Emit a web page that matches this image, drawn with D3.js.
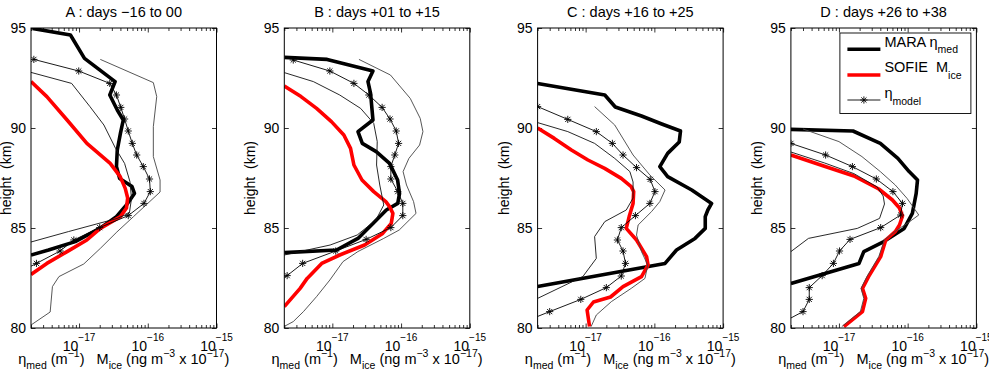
<!DOCTYPE html>
<html>
<head>
<meta charset="utf-8">
<script src="https://cdn.jsdelivr.net/npm/d3@7"></script>
<style>
  body { margin: 0; background: #fff; }
  text { font-family: "Liberation Sans", Arial, sans-serif; fill: #000; white-space: pre; }
</style>
</head>
<body>
<script>
// values are [height km, value in units of 1e-17]
const panelTitles = ["A : days \u221216 to 00", "B : days +01 to +15", "C : days +16 to +25", "D : days +26 to +38"];
const yTicks = [80, 85, 90, 95];
const xTicks = [1, 10, 100];
const xTickExp = ["\u221217", "\u221216", "\u221215"];
const legendLabels = [["MARA \u03b7", "med"], ["SOFIE  M", "ice"], ["\u03b7", "model"]];

const maraA = [[94.98,0.21],[94.65,0.75],[93.48,1.2],[92.32,3.35],[91.65,2.8],[90.9,3.6],[90.4,4.4],[89.73,4.0],[88.9,3.6],[88.07,3.5],[87.48,3.9],[87.07,5.9],[86.73,6.4],[86.15,4.9],[85.57,3.5],[84.98,2.0],[84.32,0.88],[83.9,0.36],[83.65,0.2]];
const sofieA = [[92.32,0.2],[91.57,0.34],[90.4,0.67],[89.23,1.3],[88.23,2.84],[87.57,3.97],[86.98,4.7],[86.5,5.1],[86.0,4.9],[85.57,4.0],[84.98,2.04],[84.4,1.3],[83.82,0.67],[83.23,0.34],[82.68,0.2]];
const modelA = [[93.43,0.22],[92.85,0.99],[92.23,2.8],[91.65,3.5],[91.03,4.05],[90.45,4.6],[89.85,5.2],[89.23,5.95],[88.65,6.9],[88.07,8.6],[87.45,10.6],[86.82,10.9],[86.23,8.8],[85.62,5.2],[85.02,2.0],[84.4,0.84],[83.85,0.53],[83.23,0.24],[82.63,0.11]];
const lowA = [[92.78,0.2],[92.23,0.78],[91.07,1.44],[90.15,2.3],[88.98,3.4],[88.23,4.6],[87.32,5.5],[86.48,5.8],[85.75,5.4],[85.48,3.6],[84.82,0.7],[84.3,0.2]];
const highA = [[93.43,2.04],[92.27,12.05],[91.57,13.5],[90.07,12.05],[88.57,12.05],[87.4,15.1],[86.8,15.1],[85.57,6.2],[84.8,3.55],[83.98,2.04],[83.2,1.17],[82.57,0.51],[82.07,0.41],[80.8,0.38],[80.15,0.2]];

const maraB = [[93.53,0.2],[93.43,0.84],[92.85,3.9],[92.32,3.3],[91.73,3.6],[90.4,3.9],[89.82,2.36],[89.23,2.73],[88.82,4.35],[88.23,6.8],[87.4,8.9],[86.73,9.5],[86.23,8.95],[85.9,6.1],[85.23,3.9],[84.48,2.36],[83.9,1.15],[83.77,0.2]];
const sofieB = [[92.1,0.2],[91.57,0.35],[90.98,0.59],[90.32,0.97],[89.65,1.47],[88.98,1.84],[88.15,2.06],[87.4,2.7],[86.82,4.0],[86.32,6.0],[86.07,6.8],[85.73,7.6],[85.23,7.2],[84.73,5.4],[84.15,2.95],[83.65,1.28],[83.23,0.70],[82.48,0.43],[81.98,0.34],[81.07,0.2]];
const modelB = [[93.4,0.27],[92.85,0.92],[92.23,2.06],[91.65,3.4],[91.03,5.3],[90.45,6.9],[89.85,8.5],[89.23,9.2],[88.65,8.1],[88.07,7.1],[87.45,7.1],[86.82,8.95],[86.23,10.6],[85.62,10.6],[85.02,7.1],[84.43,3.1],[83.85,1.12],[83.23,0.37],[82.62,0.22],[82.02,0.1]];
const lowB = [[92.77,0.2],[92.32,0.53],[91.65,1.28],[90.98,2.58],[90.23,4.0],[89.32,4.5],[88.15,4.4],[87.15,4.9],[86.15,5.6],[85.4,4.3],[84.65,2.3],[84.15,0.93],[83.65,0.2]];
const highB = [[93.43,2.44],[92.65,7.0],[91.48,13.6],[90.48,19.0],[89.82,20.8],[89.15,18.6],[88.48,13.0],[87.82,10.7],[87.15,12.0],[86.32,15.2],[85.73,16.5],[84.9,9.4],[84.48,5.6],[83.82,2.35],[83.32,1.43],[82.4,0.92],[81.57,0.59],[80.82,0.38],[80.32,0.27],[80.08,0.2]];

const maraC = [[92.23,0.2],[91.65,1.9],[91.05,2.7],[90.6,6.5],[90.2,12.8],[89.85,24],[89.3,23],[88.73,15.6],[88.07,12],[87.57,15.6],[86.9,35],[86.23,68],[85.9,60],[85.57,55],[84.98,55],[84.48,39],[83.9,21],[83.23,14.3],[82.07,0.2]];
const sofieC = [[90.0,0.2],[89.48,0.35],[88.9,0.62],[88.4,1.08],[87.98,1.89],[87.48,3.3],[87.07,4.6],[86.82,5.0],[86.23,4.9],[85.57,4.3],[84.98,3.9],[84.4,5.5],[83.57,7.7],[83.15,8.1],[82.57,6.5],[82.07,3.5],[81.55,2.3],[81.3,1.3],[80.9,1.05],[80.07,1.14]];
const modelC = [[91.07,0.2],[90.43,0.55],[89.82,1.43],[89.23,2.45],[88.65,3.5],[88.02,5.5],[87.43,8.7],[86.82,10.2],[86.23,8.6],[85.62,5.3],[85.02,3.3],[84.4,2.9],[83.85,3.5],[83.23,3.8],[82.6,3.3],[82.02,2.0],[81.43,0.85],[80.82,0.30],[80.22,0.11]];
const lowC = [[90.27,0.2],[89.82,0.55],[89.23,1.35],[88.48,2.65],[87.82,4.4],[87.3,4.9],[86.5,4.9],[85.9,3.9],[85.32,1.9],[84.57,1.35],[83.48,1.43],[82.57,0.91],[81.48,0.2]];
const highC = [[91.07,1.35],[90.15,2.65],[88.65,4.9],[87.65,8.6],[86.9,14.3],[86.32,12],[85.82,9.1],[85.15,5.8],[84.65,5.5],[83.82,6.5],[83.15,8],[82.48,7.3],[81.98,4.6],[81.32,2.37],[80.65,1.43],[80.07,1.2]];

const maraD = [[89.93,0.2],[89.85,1.6],[89.23,4.0],[88.48,7.2],[87.82,10.5],[87.4,13.9],[86.73,13.3],[85.73,11.7],[84.98,8.9],[84.32,4.5],[83.82,2.3],[83.23,1.96],[82.23,0.2]];
const sofieD = [[88.65,0.2],[88.1,0.6],[87.6,1.65],[86.95,3.8],[86.4,6.0],[86.0,7.6],[85.6,8.4],[85.15,7.6],[84.82,6.6],[84.4,4.8],[83.57,4.05],[82.57,2.7],[81.98,2.2],[81.48,2.45],[80.82,2.2],[80.07,1.18]];
const modelD = [[89.23,0.2],[88.65,0.64],[88.07,1.57],[87.45,3.5],[86.82,6.1],[86.23,8.4],[85.65,7.9],[85.02,4.05],[84.43,1.45],[83.85,1.02],[83.23,0.83],[82.62,0.57],[82.02,0.37],[81.43,0.37],[80.82,0.30],[80.22,0.14]];
const lowD = [[88.8,0.2],[88.25,0.62],[87.72,1.65],[87.05,3.6],[86.6,4.4],[86.2,4.6],[85.48,3.9],[84.98,1.85],[84.48,0.36],[83.82,0.2]];
const highD = [[89.95,0.3],[89.32,1.0],[88.57,2.16],[87.82,4.0],[87.15,6.6],[86.48,9.8],[85.65,14.5],[85.3,10.5],[84.9,7.0],[84.4,4.6],[83.57,3.8],[82.57,2.55],[81.98,2.1],[81.48,2.3],[80.82,2.05],[80.07,1.1]];

const panels = [
  {mara: maraA, sofie: sofieA, model: modelA, low: lowA, high: highA},
  {mara: maraB, sofie: sofieB, model: modelB, low: lowB, high: highB},
  {mara: maraC, sofie: sofieC, model: modelC, low: lowC, high: highC},
  {mara: maraD, sofie: sofieD, model: modelD, low: lowD, high: highD}
];

const panelW = 185.5, panelH = 300, plotTop = 28, left0 = 31, step = 253.3;

const svg = d3.select("body").append("svg")
    .attr("width", 989)
    .attr("height", 378);

const x = d3.scaleLog().domain([0.2, 100]).range([0, panelW]);
const y = d3.scaleLinear().domain([80, 95]).range([panelH, 0]);
const line = d3.line().x(d => x(d[1])).y(d => y(d[0]));
const minorTicks = x.ticks().filter(v => !xTicks.includes(v));

// MATLAB-like '*' marker
function asterisk(r) {
  const a = r * 0.72;
  return `M${-r},0H${r}M0,${-r}V${r}M${-a},${-a}L${a},${a}M${-a},${a}L${a},${-a}`;
}

panels.forEach((p, i) => {
  const left = left0 + i * step;
  const g = svg.append("g").attr("transform", `translate(${left},${plotTop})`);

  g.append("clipPath").attr("id", "clip" + i)
    .append("rect").attr("width", panelW).attr("height", panelH);

  // title
  svg.append("text")
    .attr("x", left + panelW / 2).attr("y", 17)
    .attr("text-anchor", "middle")
    .style("font-size", "14.5px")
    .text(panelTitles[i]);

  // ticks, all inward
  g.append("g").attr("transform", `translate(0,${panelH})`)
    .call(d3.axisBottom(x).tickValues(minorTicks).tickSize(-3).tickFormat(""));
  g.append("g").attr("transform", `translate(0,${panelH})`)
    .call(d3.axisBottom(x).tickValues(xTicks).tickSize(-4.5).tickFormat(""));
  g.append("g")
    .call(d3.axisTop(x).tickValues(minorTicks).tickSize(-3).tickFormat(""));
  g.append("g")
    .call(d3.axisTop(x).tickValues(xTicks).tickSize(-4.5).tickFormat(""));
  const yl = g.append("g")
    .call(d3.axisLeft(y).tickValues(yTicks).tickSize(-4.5).tickPadding(5));
  yl.selectAll("text").style("font-size", "14px")
    .style("font-family", "Liberation Sans, Arial, sans-serif");
  g.append("g").attr("transform", `translate(${panelW},0)`)
    .call(d3.axisRight(y).tickValues(yTicks).tickSize(-4.5).tickFormat(""));
  g.selectAll(".domain").remove();
  g.selectAll(".tick line").attr("stroke", "#000").attr("stroke-width", 0.8);

  // x tick labels 10^-17 ...
  const xt = g.selectAll(".xlab").data(xTicks).join("text")
    .attr("class", "xlab")
    .attr("x", d => x(d))
    .attr("y", panelH + 22.5)
    .attr("text-anchor", "middle")
    .style("font-size", "14px");
  xt.append("tspan").text("10");
  xt.append("tspan").attr("dy", -9.5).style("font-size", "10px").text((d, k) => xTickExp[k]);

  // x axis label
  const xl = g.append("text")
    .attr("x", panelW / 2).attr("y", panelH + 35.5)
    .attr("text-anchor", "middle")
    .style("font-size", "14.5px");
  xl.append("tspan").text("\u03b7");
  xl.append("tspan").attr("dy", 5).style("font-size", "10.5px").text("med");
  xl.append("tspan").attr("dy", -5).text(" (m");
  xl.append("tspan").attr("dy", -7).style("font-size", "10.5px").text("\u22121");
  xl.append("tspan").attr("dy", 7).text(")   M");
  xl.append("tspan").attr("dy", 5).style("font-size", "10.5px").text("ice");
  xl.append("tspan").attr("dy", -5).text(" (ng m");
  xl.append("tspan").attr("dy", -7).style("font-size", "10.5px").text("\u22123");
  xl.append("tspan").attr("dy", 7).text(" x 10");
  xl.append("tspan").attr("dy", -7).style("font-size", "10.5px").text("\u221217");
  xl.append("tspan").attr("dy", 7).text(")");

  // y axis label
  const ylx = i === 0 ? 10.5 - left : -29;
  g.append("text")
    .attr("transform", `translate(${ylx},${panelH / 2}) rotate(-90)`)
    .attr("text-anchor", "middle")
    .style("font-size", "14px")
    .text("height  (km)");

  // data
  const pg = g.append("g").attr("clip-path", `url(#clip${i})`);
  pg.append("path").datum(p.mara).attr("d", line)
    .attr("fill", "none").attr("stroke", "#000").attr("stroke-width", 3.6)
    .attr("stroke-linejoin", "round");
  pg.append("path").datum(p.sofie).attr("d", line)
    .attr("fill", "none").attr("stroke", "#ff0000").attr("stroke-width", 3.6)
    .attr("stroke-linejoin", "round");
  pg.append("path").datum(p.low).attr("d", line)
    .attr("fill", "none").attr("stroke", "#111").attr("stroke-width", 0.9);
  pg.append("path").datum(p.high).attr("d", line)
    .attr("fill", "none").attr("stroke", "#444").attr("stroke-width", 0.9);
  pg.append("path").datum(p.model).attr("d", line)
    .attr("fill", "none").attr("stroke", "#000").attr("stroke-width", 0.9);
  pg.selectAll(".mk").data(p.model).join("path")
    .attr("class", "mk")
    .attr("transform", d => `translate(${x(d[1])},${y(d[0])})`)
    .attr("d", asterisk(3.6))
    .attr("fill", "none").attr("stroke", "#000").attr("stroke-width", 0.9);

  // frame
  g.append("rect").attr("width", panelW).attr("height", panelH)
    .attr("fill", "none").attr("stroke", "#000").attr("stroke-width", 1);

  // legend in last panel
  if (i === 3) {
    const lg = g.append("g").attr("transform", "translate(49,5)");
    lg.append("rect").attr("width", 131).attr("height", 80.5)
      .attr("fill", "#fff").attr("stroke", "#000").attr("stroke-width", 0.9);
    const rows = [16.3, 42, 67];
    const styles = [
      {stroke: "#000", w: 3.6},
      {stroke: "#ff0000", w: 3.6},
      {stroke: "#000", w: 0.9}
    ];
    legendLabels.forEach((lab, k) => {
      lg.append("line").attr("x1", 7.5).attr("x2", 40.5)
        .attr("y1", rows[k]).attr("y2", rows[k])
        .attr("stroke", styles[k].stroke).attr("stroke-width", styles[k].w);
      if (k === 2) {
        lg.append("path").attr("transform", `translate(24,${rows[k]})`)
          .attr("d", asterisk(3.6)).attr("fill", "none")
          .attr("stroke", "#000").attr("stroke-width", 0.9);
      }
      const t = lg.append("text").attr("x", 44.5).attr("y", rows[k] - (k === 2 ? 2 : 2.6))
        .style("font-size", "14.5px");
      t.append("tspan").text(lab[0]);
      t.append("tspan").attr("dy", 6.5).style("font-size", "10.5px").text(lab[1]);
    });
  }
});
</script>
</body>
</html>
